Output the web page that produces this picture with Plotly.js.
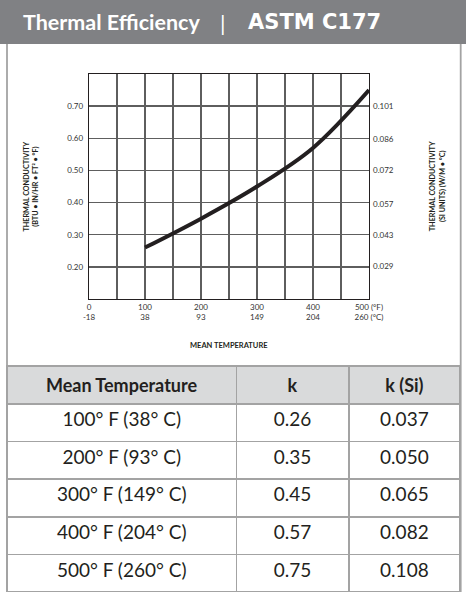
<!DOCTYPE html>
<html><head><meta charset="utf-8">
<script src="https://cdn.plot.ly/plotly-3.0.1.min.js"></script>
<style>html,body{margin:0;padding:0;background:#fff}#chart{width:466px;height:592px}</style>
</head><body><div id="chart"></div>
<script>
// ---- data ----
const tempF = [100, 200, 300, 400, 500];
const kValues = [0.26, 0.35, 0.45, 0.57, 0.75];
const kSiValues = [0.037, 0.050, 0.065, 0.082, 0.108];
const xTickVals = [0, 50, 100, 150, 200, 250, 300, 350, 400, 450, 500];
const xTickText = ['0<br>-18', '', '100<br>38', '', '200<br>93', '', '300<br>149', '', '400<br>204', '', '500 (°F)<br>260 (°C)'];
const yTickVals = [0.2, 0.3, 0.4, 0.5, 0.6, 0.7, 0.8];
const yTickText = ['0.20', '0.30', '0.40', '0.50', '0.60', '0.70', ''];
const siTickVals = [0.029, 0.043, 0.057, 0.072, 0.086, 0.101];
const siTickText = ['0.029', '0.043', '0.057', '0.072', '0.086', '0.101'];
const tableHeader = ['Mean Temperature', 'k', 'k (Si)'];
const tableTemps = ['100° F (38° C)', '200° F (93° C)', '300° F (149° C)', '400° F (204° C)', '500° F (260° C)'];
const tableK = ['0.26', '0.35', '0.45', '0.57', '0.75'];
const tableKSi = ['0.037', '0.050', '0.065', '0.082', '0.108'];
const titleParts = ['Thermal Efficiency', '|', 'ASTM C177'];
const SI_FACTOR = 0.1442; // BTU·in/hr·ft²·°F -> W/m·°C

// ---- layout helpers ----
const W = 466, H = 592;
const px = v => v / W;
const py = v => 1 - v / H;
const FONT = 'Lato, "Open Sans", sans-serif';
const INK = '#231f20';
const GRID = '#5e5e5e';
const BORDER = '#a3a3a3';

const traces = [
  {type: 'scatter', mode: 'lines', x: tempF, y: kValues, xaxis: 'x', yaxis: 'y',
   line: {color: INK, width: 4, shape: 'spline', smoothing: 1}, hoverinfo: 'skip'},
  {type: 'scatter', mode: 'lines', x: tempF, y: kSiValues, xaxis: 'x', yaxis: 'y2',
   line: {color: 'rgba(0,0,0,0)', width: 0}, hoverinfo: 'skip'},
  {type: 'table',
   domain: {x: [px(7), px(460.7)], y: [0, py(366)]},
   columnwidth: [229.7, 112.6, 111.4],
   header: {values: tableHeader.map(s => '<b>' + s + '</b>'), align: 'center', height: 38,
            fill: {color: '#d9dadb'}, line: {color: BORDER, width: 1.5},
            font: {family: FONT, size: 18, color: INK}},
   cells: {values: [tableTemps, tableK, tableKSi], align: 'center', height: 37.6,
           fill: {color: '#ffffff'}, line: {color: BORDER, width: 1.5},
           font: {family: FONT, size: 19, color: INK}}}
];

const layout = {
  width: W, height: H, margin: {l: 0, r: 0, t: 0, b: 0},
  paper_bgcolor: '#fff', plot_bgcolor: '#fff', showlegend: false,
  font: {family: FONT, color: INK},
  xaxis: {domain: [px(89), px(369)], range: [0, 500], tickvals: xTickVals, ticktext: xTickText,
          showgrid: true, gridcolor: GRID, gridwidth: 1.3, zeroline: false,
          showline: true, linecolor: INK, linewidth: 1.3, mirror: true, ticks: '',
          tickfont: {size: 8, color: '#333'}, fixedrange: true},
  yaxis: {domain: [py(299), py(74)], range: [0.1, 0.8], tickvals: yTickVals, ticktext: yTickText,
          showgrid: true, gridcolor: GRID, gridwidth: 1.3, zeroline: false,
          showline: true, linecolor: INK, linewidth: 1.3, mirror: true, ticks: '',
          tickfont: {size: 8, color: '#333'}, ticklabelstandoff: 3, fixedrange: true},
  yaxis2: {overlaying: 'y', side: 'right', anchor: 'x', range: [0.1 * SI_FACTOR, 0.8 * SI_FACTOR],
           tickvals: siTickVals, ticktext: siTickText, showgrid: false, zeroline: false,
           showline: false, ticks: '', tickfont: {size: 8, color: '#333'}, ticklabelstandoff: 3, fixedrange: true},
  shapes: [
    {type: 'rect', xref: 'paper', yref: 'paper', x0: 0, x1: 1, y0: py(44), y1: 1,
     fillcolor: '#808184', line: {width: 0}, layer: 'below'},
    {type: 'line', xref: 'paper', yref: 'paper', x0: px(7), x1: px(7), y0: 0, y1: py(44),
     line: {color: BORDER, width: 1.8}},
    {type: 'line', xref: 'paper', yref: 'paper', x0: px(460.7), x1: px(460.7), y0: 0, y1: py(44),
     line: {color: BORDER, width: 1.8}}
  ],
  annotations: [
    {text: '<b>' + titleParts[0] + '</b>', xref: 'paper', yref: 'paper',
     x: px(21), y: py(22), xanchor: 'left', yanchor: 'middle', showarrow: false,
     font: {family: FONT, size: 21.5, color: '#ffffff'}},
    {text: titleParts[1], xref: 'paper', yref: 'paper',
     x: px(223), y: py(23), xanchor: 'center', yanchor: 'middle', showarrow: false,
     font: {family: FONT, size: 22, color: '#ffffff'}},
    {text: '<b>' + titleParts[2] + '</b>', xref: 'paper', yref: 'paper',
     x: px(246), y: py(22), xanchor: 'left', yanchor: 'middle', showarrow: false,
     font: {family: '"DejaVu Sans", sans-serif', size: 21, color: '#ffffff'}},
    {text: '<b>THERMAL CONDUCTIVITY<br>(BTU • IN/HR • FT² • °F)</b>', xref: 'paper', yref: 'paper',
     x: px(30), y: py(186.5), xanchor: 'center', yanchor: 'middle', textangle: -90, showarrow: false,
     font: {family: FONT, size: 7.2, color: INK}},
    {text: '<b>THERMAL CONDUCTIVITY<br>(SI UNITS) (W/M • °C)</b>', xref: 'paper', yref: 'paper',
     x: px(436.7), y: py(186.5), xanchor: 'center', yanchor: 'middle', textangle: -90, showarrow: false,
     font: {family: FONT, size: 7.2, color: INK}},
    {text: '<b>MEAN TEMPERATURE</b>', xref: 'paper', yref: 'paper',
     x: px(229), y: py(345.5), xanchor: 'center', yanchor: 'middle', showarrow: false,
     font: {family: FONT, size: 7.5, color: INK}}
  ]
};

Plotly.newPlot('chart', traces, layout, {staticPlot: true, displayModeBar: false});
</script>
</body></html>
